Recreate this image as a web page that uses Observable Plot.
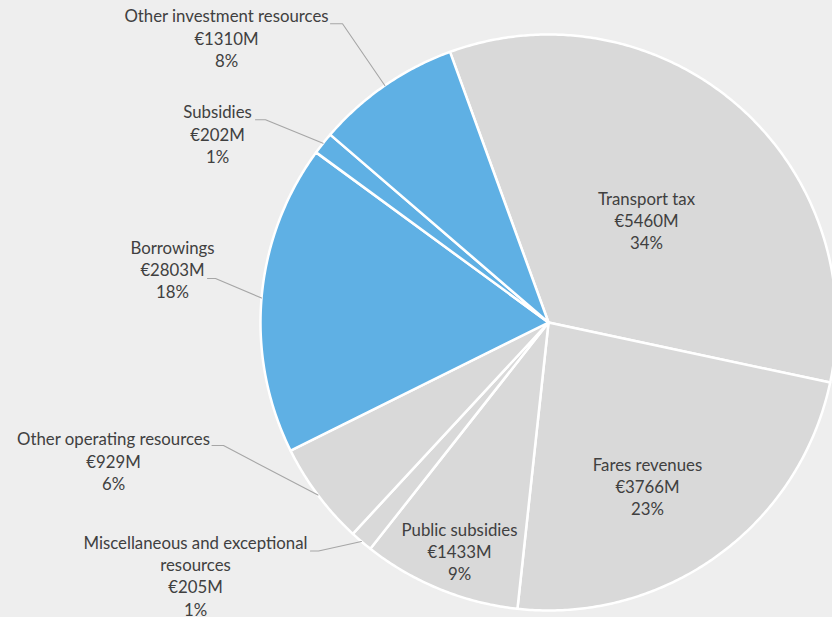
<!DOCTYPE html>
<html><head><meta charset="utf-8">
<script src="https://cdn.jsdelivr.net/npm/d3@7"></script>
<script src="https://cdn.jsdelivr.net/npm/@observablehq/plot@0.6"></script>
<style>
html,body{margin:0;padding:0;background:#eeeeee;overflow:hidden;}
</style></head><body><div id="chart"></div>
<script>
// ---- data ----
const categories = ["Transport tax","Fares revenues","Public subsidies","Miscellaneous and exceptional resources","Other operating resources","Borrowings","Subsidies","Other investment resources"];
const nameLines = ["Transport tax","Fares revenues","Public subsidies","Miscellaneous and exceptional\nresources","Other operating resources","Borrowings","Subsidies","Other investment resources"];
const valuesM = [5460,3766,1433,205,929,2803,202,1310];
const percentLabels = ["34%","23%","9%","1%","6%","18%","1%","8%"];
const groups = ["operating","operating","operating","operating","operating","investment","investment","investment"];

// ---- layout / style ----
const W = 832, H = 617, CX = 548, CY = 322, R = 288, START = -20;
const FS = 16.8, LINE_PX = 22.3;
const groupColors = {operating: "#d9d9d9", investment: "#5fb0e4"};
const labelLayout = [
  {x: 646, y: 219.5},
  {x: 647, y: 485.5},
  {x: 459, y: 550.5},
  {x: 195, y: 574.5, lead: [310, 550.5, 318, 550.5]},
  {x: 113, y: 460, lead: [211.5, 445, 223, 445]},
  {x: 172, y: 268.5, lead: [207, 278, 215, 278]},
  {x: 217, y: 133, lead: [255, 119.3, 265, 119.3]},
  {x: 226, y: 37, lead: [330, 23.3, 342, 23.3]}
];

const total = d3.sum(valuesM);
const rad = a => a * Math.PI / 180;
const px = a => CX + R * Math.sin(rad(a));
const py = a => CY - R * Math.cos(rad(a));

let acc = START;
const slices = categories.map((c, i) => {
  const a0 = acc, a1 = acc + valuesM[i] / total * 360;
  acc = a1;
  return {name: c, a0, a1, mid: (a0 + a1) / 2, fill: groupColors[groups[i]]};
});

const slicePts = [];
slices.forEach(s => {
  slicePts.push({name: s.name, fill: s.fill, x: CX, y: CY});
  const n = Math.max(2, Math.ceil((s.a1 - s.a0) / 0.5));
  for (let k = 0; k <= n; k++) {
    const a = s.a0 + (s.a1 - s.a0) * k / n;
    slicePts.push({name: s.name, fill: s.fill, x: px(a), y: py(a)});
  }
  slicePts.push({name: s.name, fill: s.fill, x: CX, y: CY});
});

const leaderPts = [];
slices.forEach((s, i) => {
  const L = labelLayout[i].lead;
  if (!L) return;
  leaderPts.push({name: s.name, x: L[0], y: L[1]});
  leaderPts.push({name: s.name, x: L[2], y: L[3]});
  leaderPts.push({name: s.name, x: px(s.mid), y: py(s.mid)});
});

const labels = slices.map((s, i) => ({
  x: labelLayout[i].x, y: labelLayout[i].y,
  text: `${nameLines[i]}\n€${valuesM[i]}M\n${percentLabels[i]}`
}));

const chart = Plot.plot({
  width: W, height: H, margin: 0,
  x: {domain: [0, W], range: [0, W], axis: null},
  y: {domain: [0, H], range: [0, H], axis: null},
  color: {type: "identity"},
  style: {background: "#eeeeee", fontFamily: "Lato, 'Open Sans', sans-serif", fontSize: FS + "px", color: "#404040"},
  marks: [
    Plot.line(slicePts, {x: "x", y: "y", z: "name", fill: "fill", stroke: "white", strokeWidth: 2.5, curve: "linear", strokeLinejoin: "round"}),
    Plot.line(leaderPts, {x: "x", y: "y", z: "name", stroke: "#a6a6a6", strokeWidth: 1.1, curve: "linear"}),
    Plot.text(labels, {x: "x", y: "y", text: "text", textAnchor: "middle", lineAnchor: "middle", lineHeight: LINE_PX / FS, fill: "#404040", fontSize: FS})
  ]
});
document.getElementById("chart").appendChild(chart);
</script>
</body></html>
